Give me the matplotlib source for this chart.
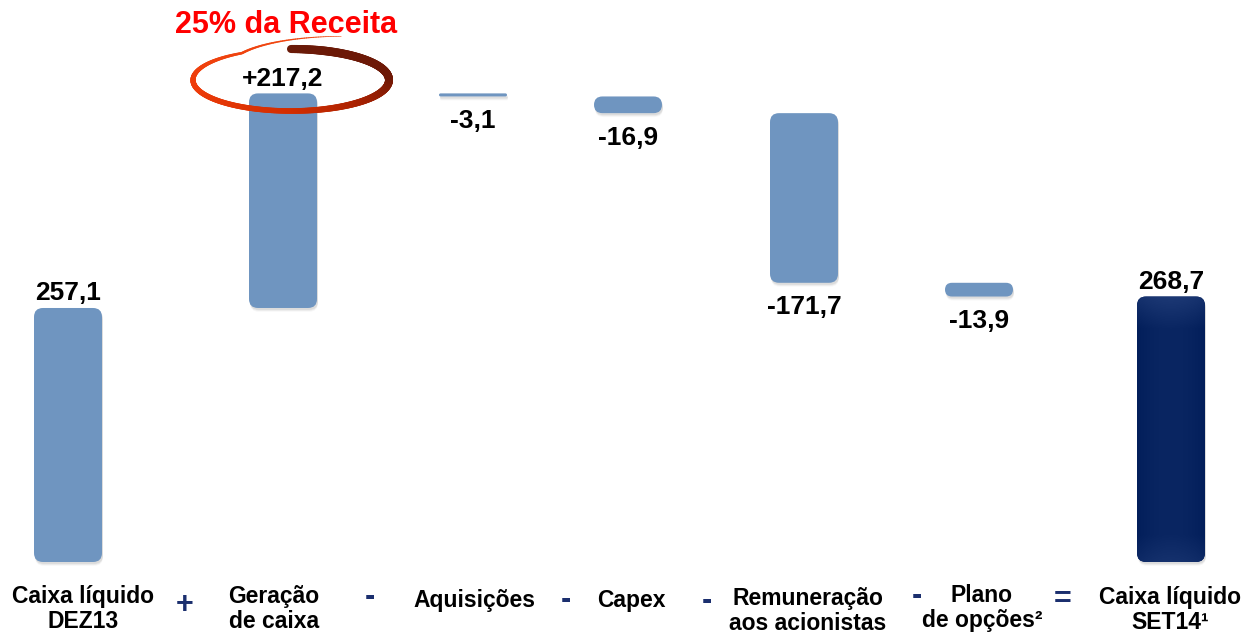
import numpy as np
import matplotlib
matplotlib.use("Agg")
import matplotlib.pyplot as plt
from matplotlib.patches import FancyBboxPatch
from matplotlib.collections import LineCollection
from matplotlib.colors import to_rgb

plt.rcParams['font.family'] = ['Liberation Sans', 'DejaVu Sans']
plt.rcParams['font.weight'] = 'bold'

# Dados
categorias = ['Caixa líquido\nDEZ13', 'Geração\nde caixa', 'Aquisições', 'Capex',
              'Remuneração\naos acionistas', 'Plano\nde opções²', 'Caixa líquido\nSET14¹']
valores = [257.1, 217.2, -3.1, -16.9, -171.7, -13.9, 268.7]
tipos = ['total', 'delta', 'delta', 'delta', 'delta', 'delta', 'total']
operadores = ['+', '-', '-', '-', '-', '=']
destaque = '25% da Receita'

# Layout (pixels)
pos_x = [68, 283, 473, 628, 804, 979, 1171]
label_x = [83, 274, 474, 631, 808, 982, 1170]
label_y = [585, 585, 589, 589, 587, 584, 586]
op_x = [185, 370, 566, 707, 917, 1063]
op_y = [605, 597, 600, 601, 596, 600]
largura = 68
k = 0.988   # px por unidade
base_px = 74  # px do fundo até o zero

cor_barra = '#6f95c0'
cor_total = '#0a2662'
cor_op = '#1b2f6e'

fig = plt.figure(figsize=(12.45, 6.36), dpi=100)
ax = fig.add_axes([0, 0, 1, 1])
ax.set_xlim(0, 1245)
ax.set_ylim(-base_px / k, (636 - base_px) / k)
ax.axis('off')

# overlay em pixels para decoração
ax2 = fig.add_axes([0, 0, 1, 1], facecolor='none')
ax2.set_xlim(0, 1245)
ax2.set_ylim(636, 0)
ax2.axis('off')

acum = 0
for i, (v, t) in enumerate(zip(valores, tipos)):
    if t == 'total':
        fundo, altura = 0, v
        acum = v
    else:
        novo = acum + v
        fundo, altura = min(acum, novo), abs(v)
        acum = novo
    x0 = pos_x[i] - largura / 2
    r = min(9, altura / 2)
    # sombra
    for j, a in enumerate([0.10, 0.07, 0.04]):
        sh = FancyBboxPatch((x0 + 1, fundo - 2 - j), largura, altura,
                            boxstyle=f"round,pad=0,rounding_size={r}",
                            mutation_aspect=1 / k, fc='#555555', ec='none',
                            alpha=a, zorder=1)
        ax.add_patch(sh)
    cor = cor_total if t == 'total' and i > 0 else cor_barra
    p = FancyBboxPatch((x0, fundo), largura, altura,
                       boxstyle=f"round,pad=0,rounding_size={r}",
                       mutation_aspect=1 / k, fc=cor, ec='none', zorder=2)
    ax.add_patch(p)
    if t == 'total' and i > 0:
        # leve gradiente na barra escura
        n = 200
        yy = np.linspace(0, 1, n)
        luz = np.clip(1 - yy / 0.12, 0, 1) * 0.12 + np.clip((yy - 0.9) / 0.1, 0, 1) * 0.07
        xx = np.linspace(-1, 1, 60)
        base = np.array(to_rgb(cor_total))
        img = np.zeros((n, 60, 3))
        for c in range(3):
            img[:, :, c] = base[c] + luz[:, None] * 0.6 - 0.03 * (xx[None, :] ** 2)
        img = np.clip(img, 0, 1)
        im = ax.imshow(img, extent=[x0, x0 + largura, fundo, fundo + altura],
                       origin='upper', aspect='auto', zorder=3)
        im.set_clip_path(p)

    # rótulo de valor
    txt = f"{abs(v):.1f}".replace('.', ',')
    if t == 'delta':
        txt = ('+' if v > 0 else '-') + txt
    if v > 0:
        ax.annotate(txt, (pos_x[i], fundo + altura), xytext=(0, 2),
                    textcoords='offset points', ha='center', va='bottom',
                    fontsize=19, fontweight='bold', color='black', zorder=5)
    else:
        ax.annotate(txt, (pos_x[i], fundo), xytext=(0, -9),
                    textcoords='offset points', ha='center', va='top',
                    fontsize=19, fontweight='bold', color='black', zorder=5)

# rótulos das categorias
for lx, ly, c in zip(label_x, label_y, categorias):
    ax2.text(lx, ly, c, ha='center', va='top', fontsize=16.5, fontweight='bold',
             linespacing=1.12, color='black')

# operadores
for ox, oy, o in zip(op_x, op_y, operadores):
    ax2.text(ox, oy, o, ha='center', va='center', fontsize=22, fontweight='bold',
             color=cor_op)

# destaque: elipse pincelada
cx, cy, a, b = 291, 80, 98, 31
t = np.radians(np.linspace(70, 450, 400))
td = np.degrees(t)
rr = 1 + 0.5 * np.clip((120 - td) / 50, 0, 1)
px = cx + a * rr * np.cos(t)
py = cy - b * rr * np.sin(t)
pts = np.column_stack([px, py]).reshape(-1, 1, 2)
segs = np.concatenate([pts[:-1], pts[1:]], axis=1)
tm = td[:-1]
lw = np.interp(tm, [70, 120, 180, 270, 360, 430, 450], [0.4, 1.8, 3.8, 4.0, 5.8, 6.2, 5.8])
stops = [70, 200, 270, 320, 370, 450]
cols = [to_rgb(c) for c in ['#f04812', '#ee3c0a', '#d42e00', '#a32002', '#6e1806', '#6a1a08']]
rgb = np.column_stack([np.interp(tm, stops, [c[j] for c in cols]) for j in range(3)])
lc = LineCollection(segs, linewidths=lw, colors=rgb, capstyle='round', zorder=4)
ax2.add_collection(lc)

ax2.text(286, 25, destaque, ha='center', va='center', fontsize=22,
         fontweight='bold', color='#ff0000')

fig.savefig('out.png', dpi=100)
